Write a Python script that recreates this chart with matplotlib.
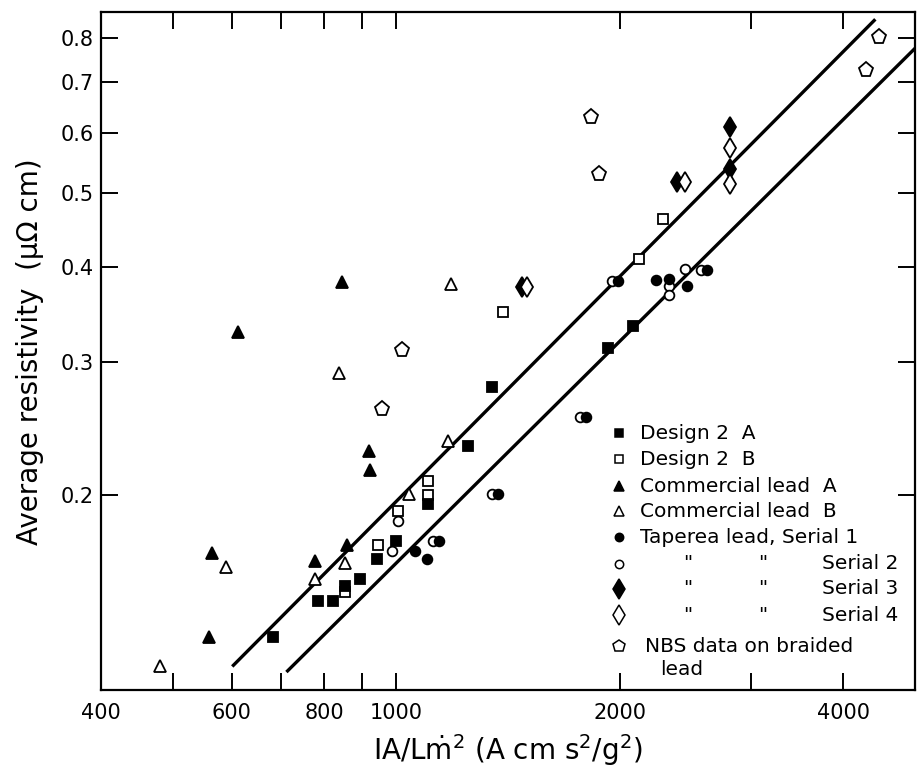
import matplotlib
matplotlib.use('Agg')
import matplotlib.pyplot as plt
from matplotlib.ticker import FixedLocator, FixedFormatter, NullLocator

plt.rcParams['font.family'] = ['DejaVu Sans']
plt.rcParams['mathtext.fontset'] = 'dejavusans'

# ---------------- data ----------------
design2a_x = [682, 785, 822, 853, 894, 942, 999, 1103, 1250, 1345, 1927, 2085]
design2a_y = [0.130, 0.145, 0.145, 0.152, 0.155, 0.165, 0.174, 0.195, 0.232, 0.278, 0.313, 0.334]

design2b_x = [853, 944, 1005, 1103, 1103, 1392, 2123, 2286]
design2b_y = [0.149, 0.172, 0.191, 0.200, 0.209, 0.349, 0.410, 0.462]

comm_a_x = [559, 564, 612, 777, 845, 858, 919, 922]
comm_a_y = [0.130, 0.168, 0.328, 0.164, 0.382, 0.172, 0.229, 0.216]

comm_b_x = [480, 589, 777, 836, 853, 1040, 1174, 1185]
comm_b_y = [0.119, 0.161, 0.155, 0.290, 0.163, 0.201, 0.236, 0.380]

serial1_x = [1060, 1098, 1143, 1372, 1801, 1990, 2239, 2331, 2466, 2624]
serial1_y = [0.169, 0.165, 0.174, 0.201, 0.254, 0.383, 0.385, 0.386, 0.377, 0.396]

serial2_x = [986, 1005, 1121, 1344, 1768, 1954, 2331, 2331, 2451, 2576]
serial2_y = [0.169, 0.185, 0.174, 0.201, 0.254, 0.383, 0.377, 0.367, 0.398, 0.396]

serial3_x = [1477, 2389, 2817, 2817]
serial3_y = [0.376, 0.517, 0.611, 0.539]

serial4_x = [1500, 2451, 2817, 2817]
serial4_y = [0.376, 0.517, 0.573, 0.515]

nbs_x = [956, 1018, 1829, 1876, 4295, 4473]
nbs_y = [0.260, 0.311, 0.631, 0.531, 0.726, 0.803]

fit_upper_x = [601, 4418]
fit_upper_y = [0.119, 0.848]
fit_lower_x = [711, 5000]
fit_lower_y = [0.117, 0.777]

x_ticks = [400, 500, 600, 700, 800, 900, 1000, 2000, 3000, 4000]
x_tick_labels = ['400', '', '600', '', '800', '', '1000', '2000', '', '4000']
y_ticks = [0.2, 0.3, 0.4, 0.5, 0.6, 0.7, 0.8]
y_tick_labels = ['0.2', '0.3', '0.4', '0.5', '0.6', '0.7', '0.8']

# ---------------- figure ----------------
fig = plt.figure(figsize=(9.18, 7.73), dpi=100)
ax = fig.add_axes([0.110, 0.107, 0.887, 0.877])
ax.set_xscale('log')
ax.set_yscale('log')
ax.set_xlim(400, 5000)
ax.set_ylim(0.1107, 0.866)

ax.plot(fit_upper_x, fit_upper_y, color='black', lw=2.4, solid_capstyle='butt', zorder=1)
ax.plot(fit_lower_x, fit_lower_y, color='black', lw=2.4, solid_capstyle='butt', zorder=1)

mew = 1.3
series = [
    (serial2_x, serial2_y, 'o', 'white', 7),
    (serial1_x, serial1_y, 'o', 'black', 7),
    (design2b_x, design2b_y, 's', 'white', 7.5),
    (design2a_x, design2a_y, 's', 'black', 7.5),
    (comm_b_x, comm_b_y, '^', 'white', 9),
    (comm_a_x, comm_a_y, '^', 'black', 9),
    (serial3_x, serial3_y, 'd', 'black', 10),
    (serial4_x, serial4_y, 'd', 'white', 10),
    (nbs_x, nbs_y, 'p', 'white', 11),
]
for xs, ys, m, fc, ms in series:
    ax.plot(xs, ys, linestyle='none', marker=m, markersize=ms,
            markerfacecolor=fc, markeredgecolor='black', markeredgewidth=mew,
            zorder=3, clip_on=False)

# ticks
ax.xaxis.set_major_locator(FixedLocator(x_ticks))
ax.xaxis.set_major_formatter(FixedFormatter(x_tick_labels))
ax.xaxis.set_minor_locator(NullLocator())
ax.yaxis.set_major_locator(FixedLocator(y_ticks))
ax.yaxis.set_major_formatter(FixedFormatter(y_tick_labels))
ax.yaxis.set_minor_locator(NullLocator())
ax.tick_params(axis='both', which='major', direction='in', length=12, width=1.4,
               top=True, right=True, labelsize=15, colors='black')
ax.tick_params(axis='x', pad=9)
ax.tick_params(axis='y', pad=5)
for t in ax.xaxis.get_major_ticks():
    if abs(t.get_loc() - 1000) < 1:
        t.tick1line.set_markersize(19)
        t.tick2line.set_markersize(19)

for s in ax.spines.values():
    s.set_linewidth(1.6)

ax.set_xlabel(r'IA/L$\dot{\mathrm{m}}^2$ (A cm s$^2$/g$^2$)', fontsize=20, labelpad=7)
ax.set_ylabel('Average resistivity  (\u03bc\u03a9 cm)', fontsize=20, labelpad=12)

# ---------------- legend (drawn in axes fraction) ----------------
leg_mx = 0.636
leg_tx = 0.662
rows = [0.379, 0.341, 0.301, 0.264, 0.226, 0.187, 0.150, 0.111, 0.065]
leg_specs = [
    ('s', 'black', 5.5), ('s', 'white', 5.5), ('^', 'black', 7.5), ('^', 'white', 7.5),
    ('o', 'black', 6), ('o', 'white', 6), ('d', 'black', 10), ('d', 'white', 10), ('p', 'white', 9),
]
for (m, fc, ms), ry in zip(leg_specs, rows):
    ax.plot([leg_mx], [ry], transform=ax.transAxes, linestyle='none', marker=m,
            markersize=ms, markerfacecolor=fc, markeredgecolor='black',
            markeredgewidth=1.1, clip_on=False, zorder=4)

fs = 14.5
plain = ['Design 2  A', 'Design 2  B', 'Commercial lead  A', 'Commercial lead  B',
         'Taperea lead, Serial 1']
for txt, ry in zip(plain, rows[:5]):
    ax.text(leg_tx, ry, txt, transform=ax.transAxes, fontsize=fs, ha='left', va='center')
for k, ry in zip([2, 3, 4], rows[5:8]):
    ax.text(0.720, ry, '"', transform=ax.transAxes, fontsize=fs, ha='center', va='center')
    ax.text(0.813, ry, '"', transform=ax.transAxes, fontsize=fs, ha='center', va='center')
    ax.text(0.979, ry, 'Serial %d' % k, transform=ax.transAxes, fontsize=fs, ha='right', va='center')
ax.text(0.668, rows[8], 'NBS data on braided', transform=ax.transAxes, fontsize=fs,
        ha='left', va='center')
ax.text(0.687, 0.031, 'lead', transform=ax.transAxes, fontsize=fs, ha='left', va='center')

fig.savefig('out.png', dpi=100)
